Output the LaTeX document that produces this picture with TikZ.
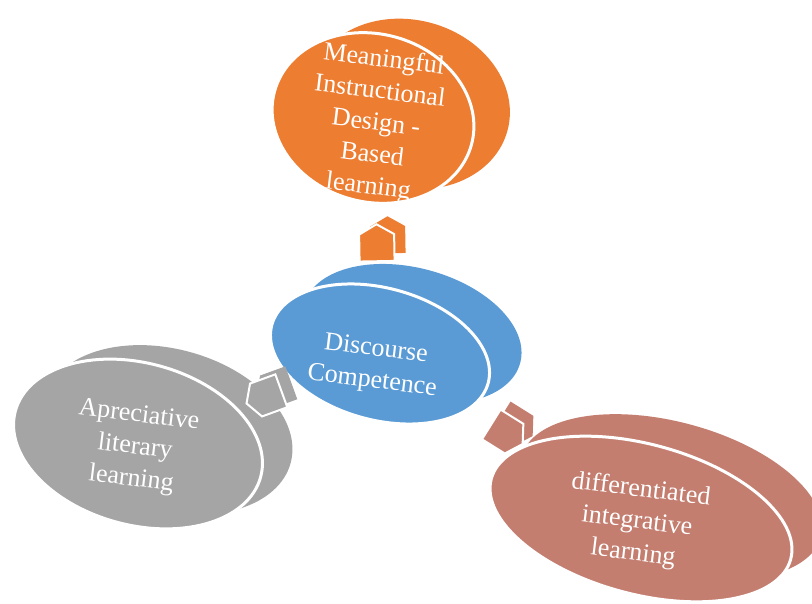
\documentclass[tikz,border=0pt]{standalone}
\usepackage{fontspec}
\setmainfont{Liberation Serif}
\usetikzlibrary{positioning, calc, shapes.geometric, shapes.arrows}
\definecolor{discblue}{HTML}{5B9BD5}
\definecolor{discorange}{HTML}{ED7D31}
\definecolor{discgray}{HTML}{A5A5A5}
\definecolor{discbrown}{HTML}{C47E70}

\begin{document}
\begin{tikzpicture}[x=1pt,y=-1pt]
    % Stili per i dischi e le frecce
    \tikzset{
        disk_back/.style={
            ellipse,
            inner sep=0pt,
            rotate=-15 % Inclinazione del disco
        },
        disk_front/.style={
            ellipse,
            draw=white, % Bordo bianco
            line width=3pt,
            inner sep=0pt,
            rotate=-15
        },
        disk_label/.style={
            text=white,
            align=center, % Testo centrato
            font=\fontsize{26}{32}\selectfont,
            rotate=-7
        },
        block_arrow/.style={
            single arrow,
            single arrow head extend=0pt,
            single arrow tip angle=120,
            minimum height=37pt, % Lunghezza della freccia
            minimum width=35pt,
            inner sep=0pt
        }
    }

    \useasboundingbox (0,0) rectangle (812,604);

    % Disco in alto
    \node[disk_back, fill=discorange, minimum width=204pt, minimum height=168pt] (top_back) at (409,104) {};
    \node[disk_front, fill=discorange, minimum width=204pt, minimum height=168pt] (top) at (373,118) {};
    \node[disk_label] (top_label) at (376,124) {Meaningful\\Instructional\\Design -\\Based\\learning};

    % Disco a sinistra
    \node[disk_back, fill=discgray, minimum width=254pt, minimum height=162pt] (left_back) at (168,430) {};
    \node[disk_front, fill=discgray, minimum width=254pt, minimum height=162pt] (left) at (138,444) {};
    \node[disk_label] (left_label) at (135,448) {Apreciative\\literary\\learning};

    % Disco in basso a destra
    \node[disk_back, fill=discbrown, minimum width=310pt, minimum height=150pt] (right_back) at (671,497) {};
    \node[disk_front, fill=discbrown, minimum width=310pt, minimum height=150pt] (right) at (641,519) {};
    \node[disk_label] (right_label) at (637,522) {differentiated\\integrative\\learning};

    % Disco centrale
    \node[disk_back, fill=discblue, minimum width=224pt, minimum height=132pt] (ctr_back) at (412,334) {};
    \node[disk_front, fill=discblue, minimum width=224pt, minimum height=132pt] (ctr) at (380,354) {};
    \node[disk_label] (ctr_label) at (374,366) {Discourse\\Competence};

    % Frecce: retro spostato, poi faccia davanti
    \node[block_arrow, fill=discorange, rotate=91] (arrow_top_back) at ($(ctr)!0.45!(top)+(11,-8)$) {};
    \node[block_arrow, fill=discorange, draw=white, line width=2pt, rotate=91] (arrow_top) at ($(ctr)!0.45!(top)$) {};

    \node[block_arrow, fill=discgray, rotate=200] (arrow_left_back) at ($(ctr)!0.46!(left)+(10,-8)$) {};
    \node[block_arrow, fill=discgray, draw=white, line width=2pt, rotate=200] (arrow_left) at ($(ctr)!0.46!(left)$) {};

    \node[block_arrow, fill=discbrown, rotate=-32] (arrow_right_back) at ($(ctr)!0.47!(right)+(10,-8)$) {};
    \node[block_arrow, fill=discbrown, draw=white, line width=2pt, rotate=-32] (arrow_right) at ($(ctr)!0.47!(right)$) {};

\end{tikzpicture}
\end{document}
